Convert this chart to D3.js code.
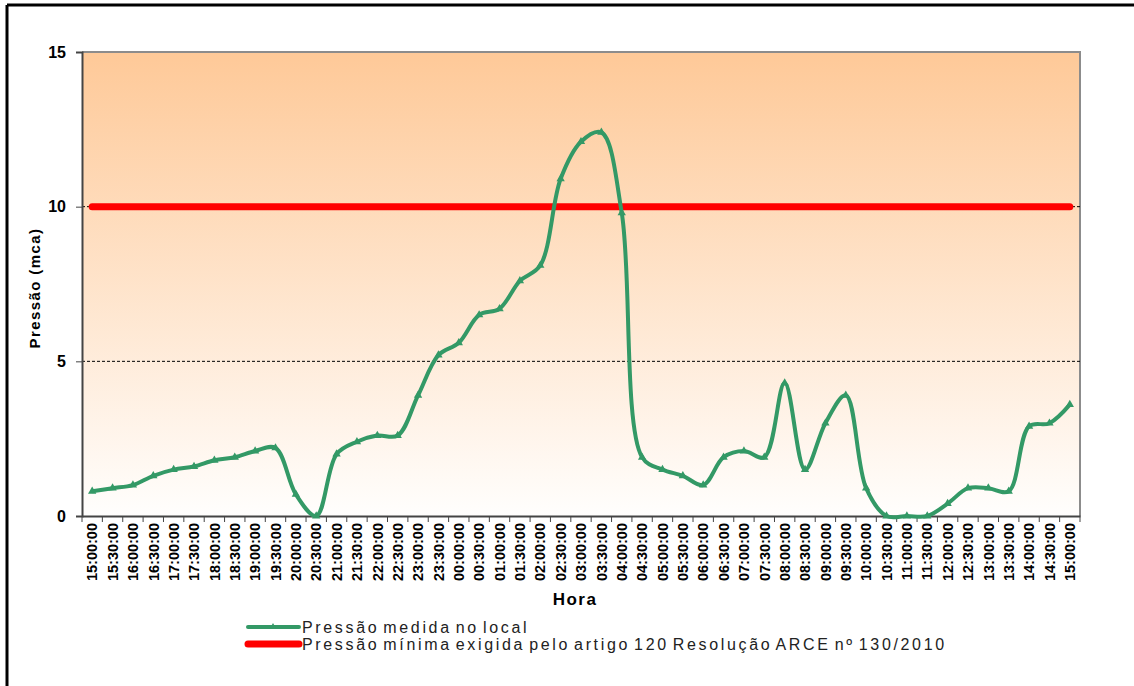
<!DOCTYPE html>
<html>
<head>
<meta charset="utf-8">
<script src="https://cdn.jsdelivr.net/npm/d3@7"></script>
<style>
	body { margin: 0; background: #fff; }
	text { font-family: "Liberation Sans", Arial, sans-serif; }
</style>
</head>
<body>
<script>
// categories: every 30 min from 15:00 to 15:00 next day
const horas = ['15:00:00', '15:30:00', '16:00:00', '16:30:00', '17:00:00', '17:30:00', '18:00:00', '18:30:00',
	'19:00:00', '19:30:00', '20:00:00', '20:30:00', '21:00:00', '21:30:00', '22:00:00', '22:30:00',
	'23:00:00', '23:30:00', '00:00:00', '00:30:00', '01:00:00', '01:30:00', '02:00:00', '02:30:00',
	'03:00:00', '03:30:00', '04:00:00', '04:30:00', '05:00:00', '05:30:00', '06:00:00', '06:30:00',
	'07:00:00', '07:30:00', '08:00:00', '08:30:00', '09:00:00', '09:30:00', '10:00:00', '10:30:00',
	'11:00:00', '11:30:00', '12:00:00', '12:30:00', '13:00:00', '13:30:00', '14:00:00', '14:30:00', '15:00:00'];

const pressaoMedida = [0.8, 0.9, 1.0, 1.3, 1.5, 1.6, 1.8, 1.9,
	2.1, 2.2, 0.7, 0.0, 2.0, 2.4, 2.6, 2.6,
	3.9, 5.2, 5.6, 6.5, 6.7, 7.6, 8.1, 10.9,
	12.1, 12.4, 9.8, 1.9, 1.5, 1.3, 1.0, 1.9,
	2.1, 1.9, 4.3, 1.5, 3.0, 3.9, 0.9, 0.0,
	0.0, 0.0, 0.4, 0.9, 0.9, 0.8, 2.9, 3.0, 3.6];

const pressaoMinima = 10;
const yTicks = [0, 5, 10, 15];
const gridValues = [5, 10];

const legendLabels = ['Pressão medida no local', 'Pressão mínima exigida pelo artigo 120 Resolução ARCE nº 130/2010'];

const width = 1134;
const height = 686;
const plot = { left: 82, right: 1080, top: 52, bottom: 516 };

const svg = d3.select('body').append('svg')
	.attr('width', width)
	.attr('height', height);

// outer frame (only top and left are visible)
svg.append('line').attr('x1', 7).attr('x2', width).attr('y1', 5).attr('y2', 5)
	.attr('stroke', '#000').attr('stroke-width', 3);
svg.append('line').attr('x1', 7).attr('x2', 7).attr('y1', 5).attr('y2', height)
	.attr('stroke', '#000').attr('stroke-width', 3);

const x = d3.scaleBand()
	.domain(horas.map((d, i) => i))
	.range([plot.left, plot.right]);

const y = d3.scaleLinear()
	.domain([0, 15])
	.range([plot.bottom, plot.top]);

const cx = i => x(i) + x.bandwidth() / 2;

// background gradient
const grad = svg.append('defs').append('linearGradient')
	.attr('id', 'bg').attr('x1', 0).attr('x2', 0).attr('y1', 0).attr('y2', 1);
grad.append('stop').attr('offset', '0%').attr('stop-color', '#fec998');
grad.append('stop').attr('offset', '100%').attr('stop-color', '#fffefd');

svg.append('rect')
	.attr('x', plot.left).attr('y', plot.top)
	.attr('width', plot.right - plot.left).attr('height', plot.bottom - plot.top)
	.attr('fill', 'url(#bg)');

// plot border top / right
svg.append('path')
	.attr('d', `M${plot.left},${plot.top}H${plot.right}V${plot.bottom}`)
	.attr('fill', 'none').attr('stroke', '#8c8c8c').attr('stroke-width', 2);

// dashed gridlines
svg.selectAll('.grid').data(gridValues).enter().append('line')
	.attr('x1', plot.left).attr('x2', plot.right)
	.attr('y1', d => y(d)).attr('y2', d => y(d))
	.attr('stroke', '#000').attr('stroke-width', 1).attr('stroke-dasharray', '3,2');

// y axis
const yAxis = svg.append('g')
	.attr('transform', `translate(${plot.left},0)`)
	.call(d3.axisLeft(y).tickValues(yTicks).tickSize(6).tickPadding(10));
yAxis.select('.domain').attr('stroke', '#444').attr('stroke-width', 2);
yAxis.selectAll('.tick line').attr('stroke', '#444');
yAxis.selectAll('.tick text')
	.attr('font-size', 16).attr('font-weight', 'bold').attr('fill', '#000')
	.attr('font-family', '"Liberation Sans", Arial, sans-serif');

// x axis: ticks on category boundaries
const xAxis = svg.append('g')
	.attr('transform', `translate(0,${plot.bottom})`)
	.call(d3.axisBottom(x).tickSize(0).tickFormat(''));
xAxis.select('.domain').attr('stroke', '#444').attr('stroke-width', 2);

svg.append('g').selectAll('line')
	.data(d3.range(horas.length + 1))
	.enter().append('line')
	.attr('x1', d => plot.left + d * x.step()).attr('x2', d => plot.left + d * x.step())
	.attr('y1', plot.bottom).attr('y2', plot.bottom + 6)
	.attr('stroke', '#444');

svg.append('g').selectAll('text')
	.data(horas)
	.enter().append('text')
	.attr('transform', (d, i) => `translate(${cx(i)},${plot.bottom + 7}) rotate(-90)`)
	.attr('text-anchor', 'end')
	.attr('dy', '0.36em')
	.attr('font-size', 14.5)
	.attr('font-weight', 'bold')
	.text(d => d);

// axis titles
svg.append('text')
	.attr('transform', 'translate(40,288) rotate(-90)')
	.attr('text-anchor', 'middle')
	.attr('font-size', 15).attr('font-weight', 'bold').attr('letter-spacing', 1.4)
	.text('Pressão (mca)');

svg.append('text')
	.attr('x', 575).attr('y', 605)
	.attr('text-anchor', 'middle')
	.attr('font-size', 17).attr('font-weight', 'bold').attr('letter-spacing', 1.5)
	.text('Hora');

// minimum pressure line
svg.append('line')
	.attr('x1', cx(0)).attr('x2', cx(horas.length - 1))
	.attr('y1', y(pressaoMinima)).attr('y2', y(pressaoMinima))
	.attr('stroke', '#ff0000').attr('stroke-width', 7).attr('stroke-linecap', 'round');

// measured pressure (smoothed, no big overshoot after the drop)
const line = d3.line()
	.x((d, i) => cx(i))
	.y(d => y(d))
	.curve(d3.curveCatmullRom.alpha(0.5));

svg.append('path')
	.datum(pressaoMedida)
	.attr('d', line)
	.attr('fill', 'none')
	.attr('stroke', '#339966')
	.attr('stroke-width', 4)
	.attr('stroke-linejoin', 'round');

svg.append('g').selectAll('path')
	.data(pressaoMedida)
	.enter().append('path')
	.attr('d', d3.symbol().type(d3.symbolTriangle).size(30))
	.attr('transform', (d, i) => `translate(${cx(i)},${y(d)})`)
	.attr('fill', '#339966');

// legend
const legend = svg.append('g');
const legendColors = ['#339966', '#ff0000'];
const legendWidths = [4, 7];
legendLabels.forEach((lab, i) => {
	const ly = 627 + i * 17;
	legend.append('line')
		.attr('x1', 248).attr('x2', 299).attr('y1', ly).attr('y2', ly)
		.attr('stroke', legendColors[i]).attr('stroke-width', legendWidths[i])
		.attr('stroke-linecap', 'round');
	if (i === 0) {
		legend.append('path')
			.attr('d', d3.symbol().type(d3.symbolTriangle).size(20))
			.attr('transform', `translate(273,${ly})`)
			.attr('fill', legendColors[i]);
	}
	legend.append('text')
		.attr('x', 302).attr('y', ly)
		.attr('dy', '0.36em')
		.attr('font-size', 16)
		.attr('letter-spacing', 2.65)
		.attr('word-spacing', -3)
		.attr('fill', '#222')
		.text(lab);
});
</script>
</body>
</html>
